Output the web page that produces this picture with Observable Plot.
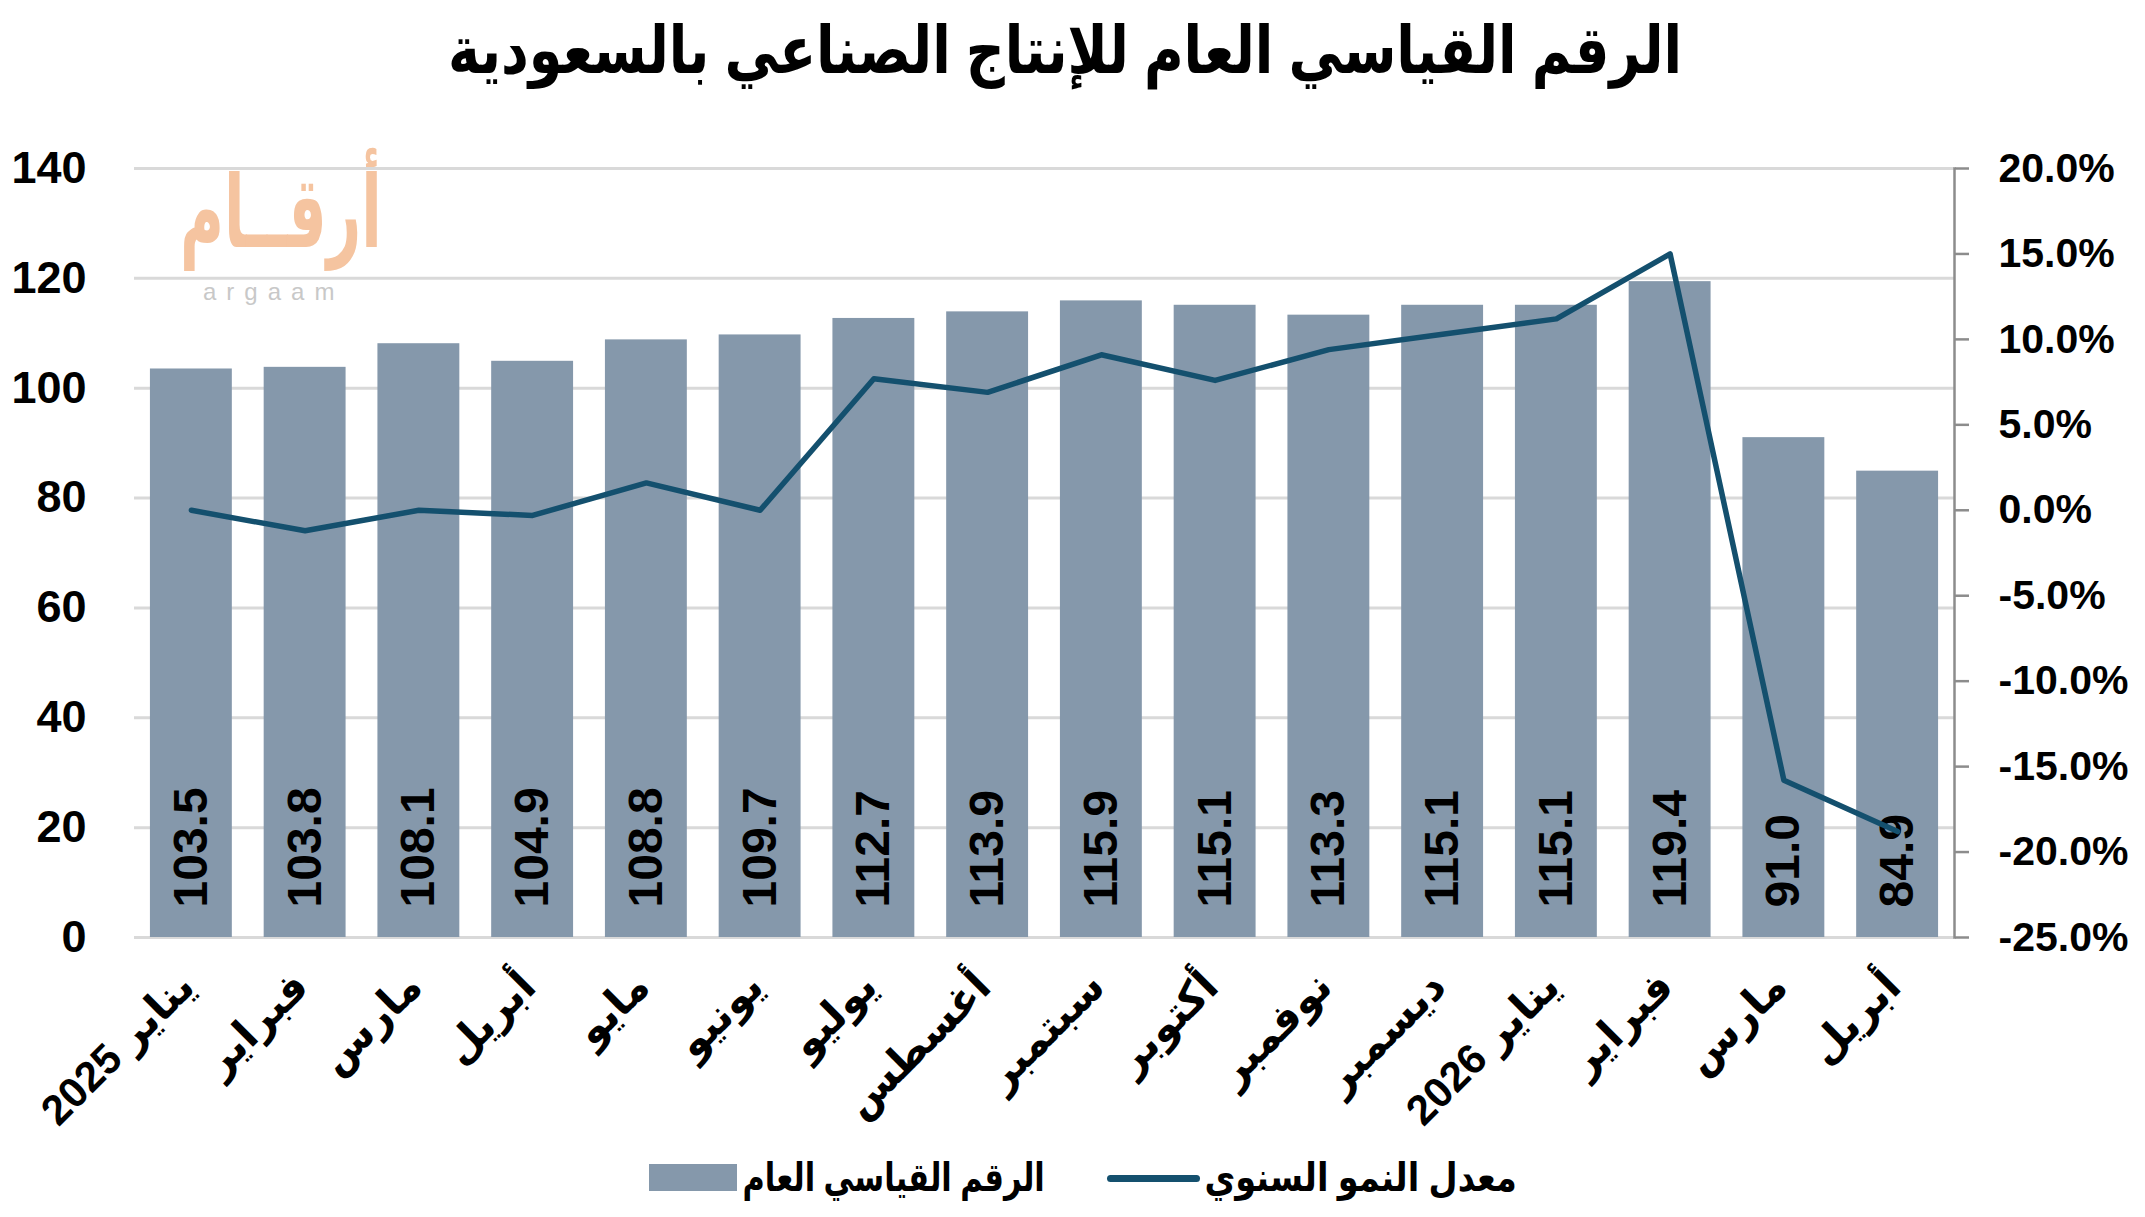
<!DOCTYPE html>
<html lang="ar">
<head>
<meta charset="utf-8">
<script src="https://cdn.jsdelivr.net/npm/d3@7"></script>
<script src="https://cdn.jsdelivr.net/npm/@observablehq/plot@0.6"></script>
<style>
  html, body { margin: 0; padding: 0; background: #fff; }
  body { width: 2145px; height: 1217px; overflow: hidden; font-family: "Liberation Sans", Arial, "DejaVu Sans", sans-serif; }
  #wrap { position: relative; width: 2145px; height: 1217px; }
  #title { position: absolute; left: 0; top: 14px; width: 2130px; text-align: center; font-size: 66px; font-weight: bold; line-height: 1.1; direction: rtl; color: #000; transform: scaleX(0.82); transform-origin: 1065px 0; }
  #chart { position: absolute; left: 0; top: 140px; }
  .wm-ar { position: absolute; left: 180px; top: 162px; font-size: 100px; font-weight: bold; color: #f5c4a0; direction: rtl; line-height: 1; transform: scaleX(0.6); transform-origin: 0 0; white-space: nowrap; }
  .wm-en { position: absolute; left: 203px; top: 280px; font-size: 24px; color: #c8c8c8; letter-spacing: 10px; line-height: 1; }
  .lg-text { position: absolute; top: 1152px; font-size: 40px; font-weight: bold; direction: rtl; line-height: 50px; color: #000; white-space: nowrap; transform-origin: 100% 50%; }
  .lg-bar { position: absolute; left: 649px; top: 1164px; width: 88px; height: 27px; background: #8598ab; }
  .lg-line { position: absolute; left: 1107px; top: 1175px; width: 93px; height: 7px; border-radius: 4px; background: #14506e; }
</style>
</head>
<body>
<div id="wrap">
  <div id="title">الرقم القياسي العام للإنتاج الصناعي بالسعودية</div>
  <div class="wm-ar">أرقــام</div>
  <div class="wm-en">argaam</div>
  <div id="chart"></div>
  <div class="lg-bar"></div>
  <div class="lg-text" style="right: 1100px; transform: scaleX(0.76);">الرقم القياسي العام</div>
  <div class="lg-line"></div>
  <div class="lg-text" style="right: 628px; transform: scaleX(0.84);">معدل النمو السنوي</div>
</div>
<script>
const monthLabels = ["يناير 2025","فبراير","مارس","أبريل","مايو","يونيو","يوليو","أغسطس","سبتمبر","أكتوبر","نوفمبر","ديسمبر","يناير 2026","فبراير","مارس","أبريل"];
const indexValues = [103.5,103.8,108.1,104.9,108.8,109.7,112.7,113.9,115.9,115.1,113.3,115.1,115.1,119.4,91.0,84.9];
const growthRates = [0.0,-1.2,0.0,-0.3,1.6,0.0,7.7,6.9,9.1,7.6,9.4,10.3,11.2,15.0,-15.8,-18.8];
const leftTicks = [0,20,40,60,80,100,120,140];
const rightTicks = [-25,-20,-15,-10,-5,0,5,10,15,20];

const leftMax = 140, rightMin = -25, rightMax = 20;
const toLeft = g => (g - rightMin) / (rightMax - rightMin) * leftMax;
const fromLeft = v => v / leftMax * (rightMax - rightMin) + rightMin;

const rows = monthLabels.map((label, i) => ({i, label, v: indexValues[i], g: growthRates[i]}));

const chart = Plot.plot({
  width: 2145,
  height: 1010,
  marginTop: 28,
  marginBottom: 213,
  marginLeft: 134,
  marginRight: 191,
  style: {fontFamily: '"Liberation Sans", Arial, "DejaVu Sans", sans-serif', background: "transparent", overflow: "visible"},
  x: {type: "band", domain: d3.range(monthLabels.length), paddingInner: 0.28, paddingOuter: 0.14, round: false, axis: null},
  y: {domain: [0, leftMax], axis: null},
  marks: [
    Plot.ruleY(leftTicks, {stroke: "#d9d9d9", strokeWidth: 3}),
    Plot.barY(rows, {x: "i", y: "v", fill: "#8598ab"}),
    Plot.text(rows, {x: "i", y: 0, text: d => d.v.toFixed(1), rotate: -90, textAnchor: "start", lineAnchor: "middle", dy: -30, fontSize: 48, fontWeight: "bold", fill: "#000"}),
    Plot.line(rows, {x: "i", y: d => toLeft(d.g), stroke: "#14506e", strokeWidth: 5.5, strokeLinejoin: "round", strokeLinecap: "round"}),
    Plot.axisY(leftTicks, {anchor: "left", label: null, tickSize: 0, tickPadding: 48, fontSize: 45, fontWeight: "bold", fill: "#000"}),
    Plot.axisY(rightTicks.map(toLeft), {anchor: "right", label: null, tickSize: 14, tickPadding: 30, stroke: "#8c8c8c", strokeWidth: 2.5, fontSize: 41, fontWeight: "bold", fill: "#000", tickFormat: v => fromLeft(v).toFixed(1) + "%"}),
    Plot.frame({anchor: "right", stroke: "#8c8c8c", strokeWidth: 2.5}),
    Plot.text(rows, {x: "i", y: 0, text: d => "\u202B" + d.label + "\u202C", rotate: -45, textAnchor: "end", lineAnchor: "middle", dy: 42, dx: -4, fontSize: 42, fontWeight: "bold", fill: "#000"})
  ]
});
document.getElementById("chart").appendChild(chart);
</script>
</body>
</html>
